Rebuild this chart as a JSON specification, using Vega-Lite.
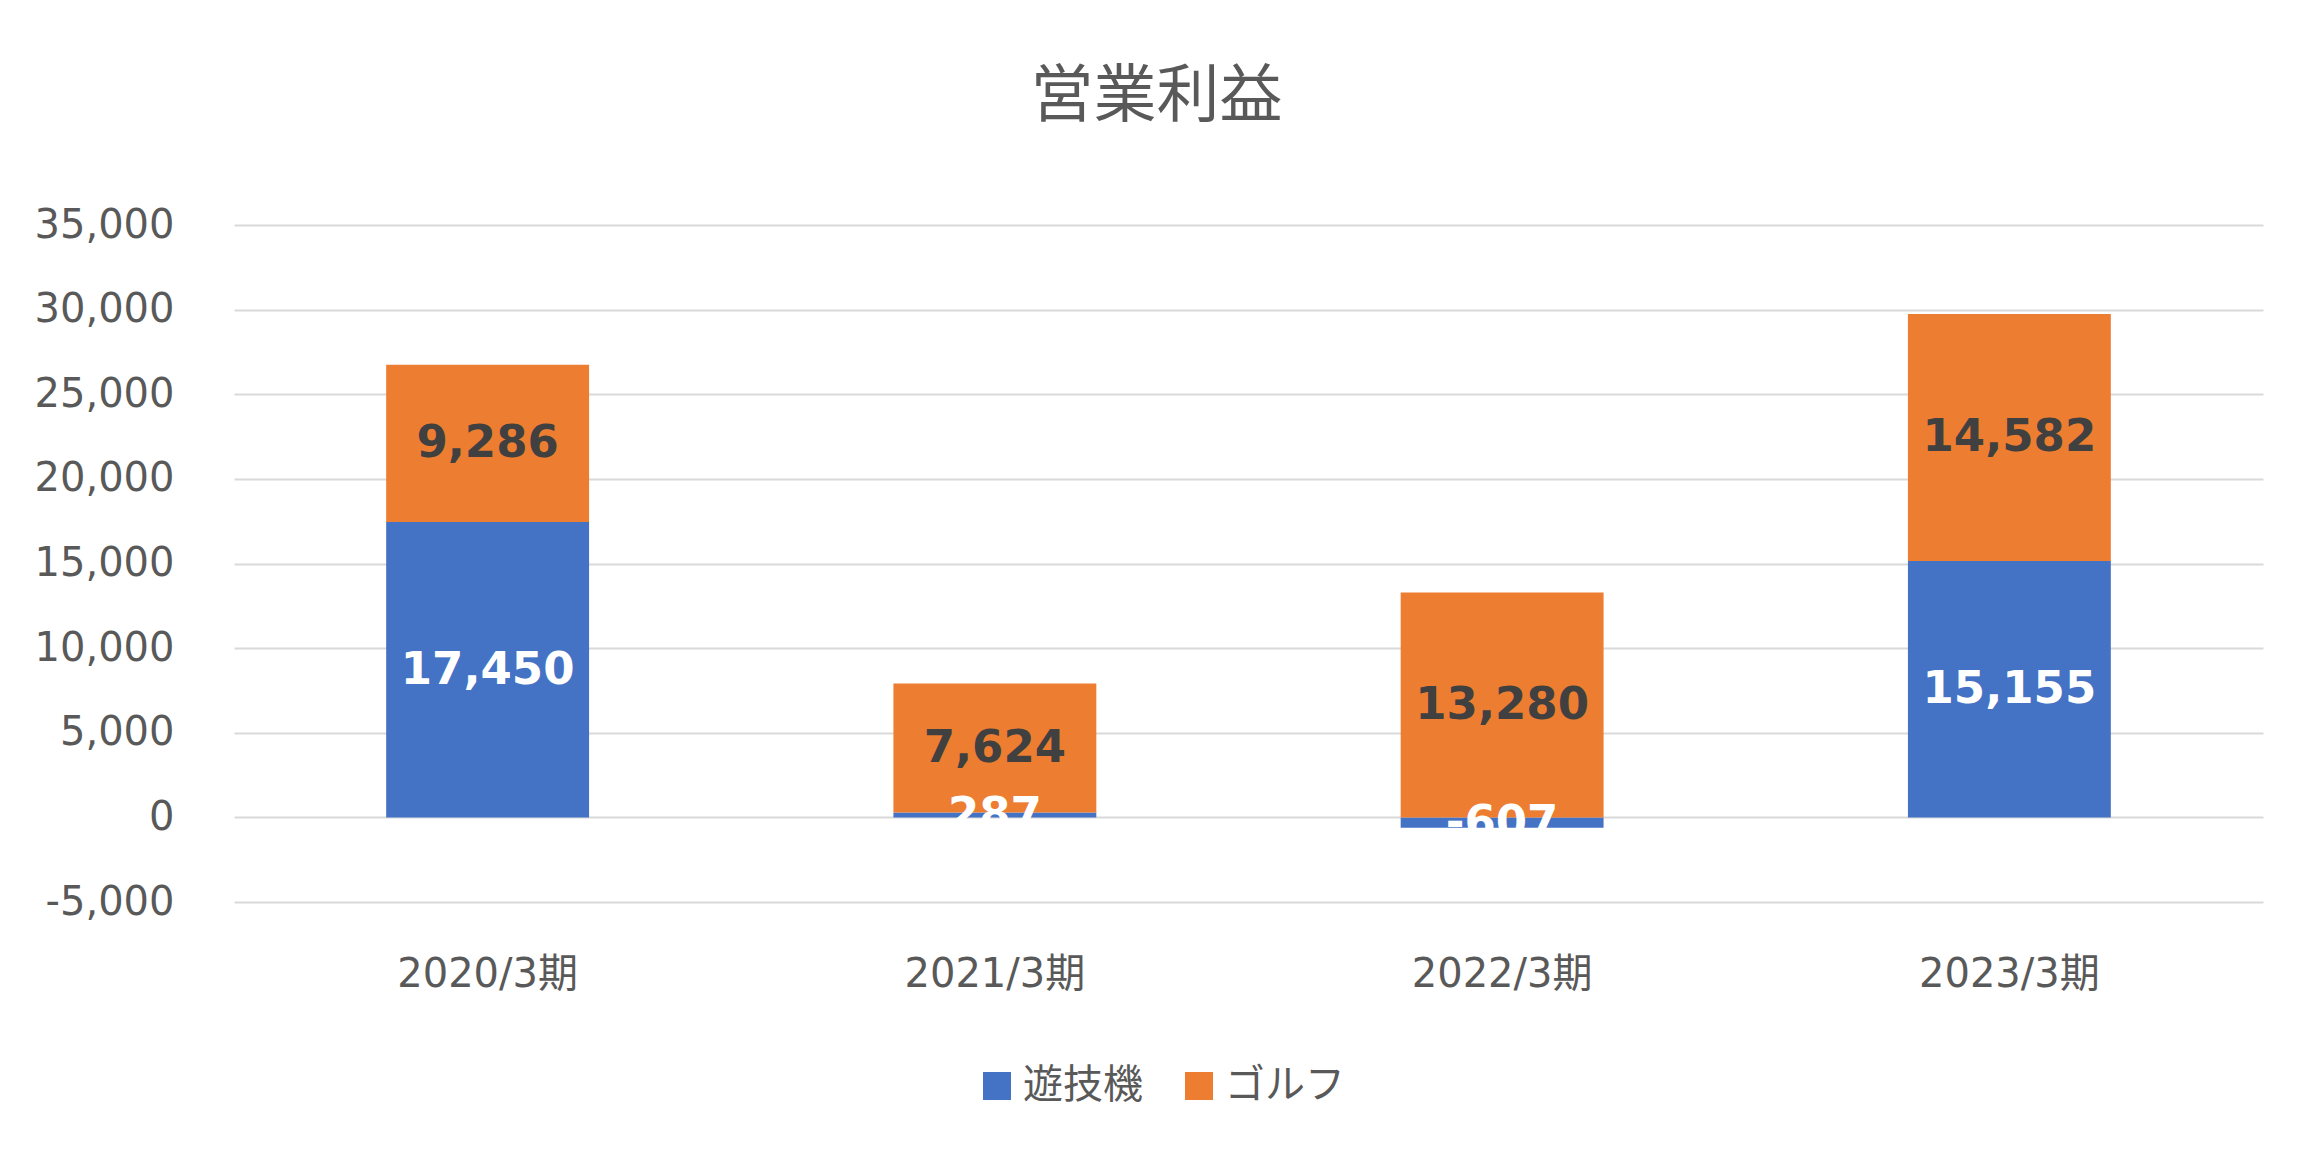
{
  "$schema": "https://vega.github.io/schema/vega-lite/v6.json",
  "width": 2029,
  "height": 677,
  "autosize": {"type": "none"},
  "padding": {"left": 234, "top": 225, "right": 56, "bottom": 266},
  "background": "white",
  "config": {"view": {"stroke": null}},
  "title": {
    "text": "営業利益",
    "font": "Noto Sans CJK JP",
    "fontSize": 63,
    "fontWeight": "normal",
    "color": "#595959",
    "anchor": "middle",
    "dx": -92,
    "offset": 76
  },
  "data": {
    "values": [
      {"year": "2020/3期", "segment": "遊技機", "value": 17450},
      {"year": "2020/3期", "segment": "ゴルフ", "value": 9286},
      {"year": "2021/3期", "segment": "遊技機", "value": 287},
      {"year": "2021/3期", "segment": "ゴルフ", "value": 7624},
      {"year": "2022/3期", "segment": "遊技機", "value": -607},
      {"year": "2022/3期", "segment": "ゴルフ", "value": 13280},
      {"year": "2023/3期", "segment": "遊技機", "value": 15155},
      {"year": "2023/3期", "segment": "ゴルフ", "value": 14582}
    ]
  },
  "transform": [
    {"stack": "value", "groupby": ["year"], "sort": [{"field": "segment", "order": "descending"}], "as": ["v0", "v1"]},
    {"calculate": "(datum.v0 + datum.v1) / 2", "as": "mid"},
    {"calculate": "replace(format(datum.value, ','), '−', '-')", "as": "label"}
  ],
  "encoding": {
    "x": {
      "field": "year",
      "type": "nominal",
      "sort": null,
      "title": null,
      "scale": {"paddingInner": 0.6, "paddingOuter": 0.3},
      "axis": {
        "labelAngle": 0,
        "ticks": false,
        "domain": false,
        "labelPadding": 52,
        "labelLimit": 0,
        "labelFont": "DejaVu Sans, Noto Sans CJK JP",
        "labelFontSize": 40,
        "labelColor": "#595959",
        "grid": false
      }
    }
  },
  "layer": [
    {
      "mark": {"type": "bar"},
      "encoding": {
        "y": {
          "field": "v0",
          "type": "quantitative",
          "title": null,
          "scale": {"domain": [-5000, 35000], "nice": false, "zero": false},
          "axis": {
            "values": [-5000, 0, 5000, 10000, 15000, 20000, 25000, 30000, 35000],
            "labelExpr": "replace(format(datum.value, ','), '−', '-')",
            "ticks": false,
            "domain": false,
            "labelPadding": 60,
            "labelFont": "DejaVu Sans",
            "labelFontSize": 40,
            "labelColor": "#595959",
            "gridColor": "#d9d9d9",
            "gridWidth": 2
          }
        },
        "y2": {"field": "v1"},
        "color": {
          "field": "segment",
          "type": "nominal",
          "scale": {"domain": ["遊技機", "ゴルフ"], "range": ["#4472C4", "#ED7D31"]},
          "legend": {
            "title": null,
            "orient": "none",
            "legendX": 743,
            "legendY": 841,
            "direction": "horizontal",
            "symbolType": "square",
            "symbolSize": 784,
            "symbolStrokeWidth": 0,
            "labelFont": "Noto Sans CJK JP",
            "labelFontSize": 40,
            "labelColor": "#595959",
            "labelOffset": 6,
            "columnPadding": 36
          }
        }
      }
    },
    {
      "mark": {"type": "text", "font": "DejaVu Sans", "fontSize": 45, "fontWeight": "bold", "baseline": "middle", "align": "center"},
      "encoding": {
        "y": {"field": "mid", "type": "quantitative"},
        "text": {"field": "label", "type": "nominal"},
        "color": {
          "condition": {"test": "datum.segment === '遊技機'", "value": "#ffffff"},
          "value": "#404040"
        }
      }
    }
  ]
}
